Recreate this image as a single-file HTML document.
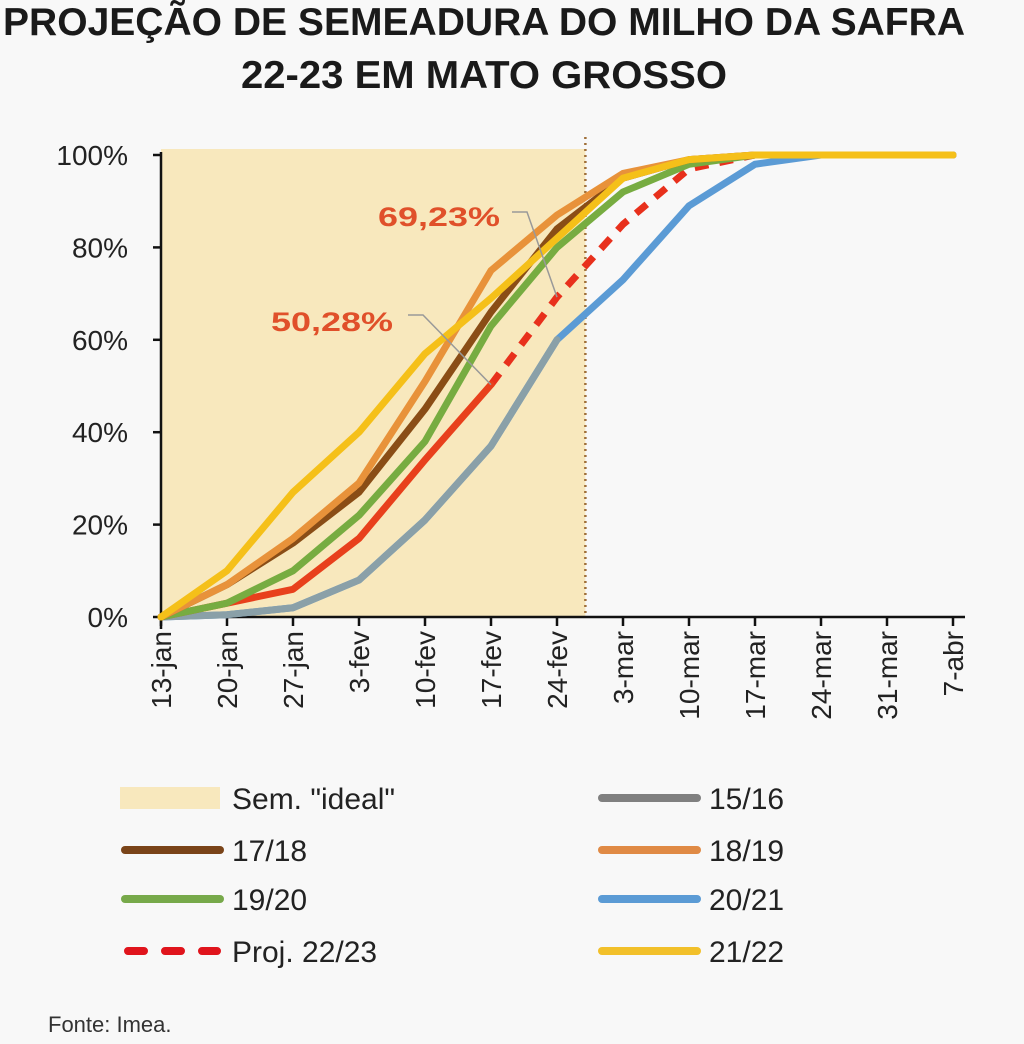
<!DOCTYPE html>
<html><head><meta charset="utf-8"><style>
body{margin:0;background:#f8f8f8;}
svg{display:block;font-family:"Liberation Sans",sans-serif;}
</style></head><body>
<svg id="c" width="1024" height="1044">
<text x="484" y="35" text-anchor="middle" font-size="39" font-weight="bold" fill="#1a1a1a" textLength="962" lengthAdjust="spacingAndGlyphs">PROJEÇÃO DE SEMEADURA DO MILHO DA SAFRA</text>
<text x="484" y="88" text-anchor="middle" font-size="39" font-weight="bold" fill="#1a1a1a" textLength="486" lengthAdjust="spacingAndGlyphs">22-23 EM MATO GROSSO</text>
<text x="48" y="1032" font-size="22" fill="#333">Fonte: Imea.</text>
</svg>
<script>
const categories=["13-jan","20-jan","27-jan","3-fev","10-fev","17-fev","24-fev","3-mar","10-mar","17-mar","24-mar","31-mar","7-abr"];
const yTicks=[0,20,40,60,80,100];
const s2021=[0,0.5,2,8,21,37,60,73,89,98,100,100,100];
const s1516=[0,0.5,2,8,21,37,60,null,null,null,null,null,null];
const s1718=[0,7,16,27,45,66,84,95,99,100,100,100,100];
const s1819=[0,7,17,29,51,75,87,96,99,100,100,100,100];
const s1920=[0,3,10,22,38,63,80,92,98,100,100,100,100];
const s2122=[0,10,27,40,57,69,82,95,99,100,100,100,100];
const proj=[0,3,6,17,34,50.28,69.23,85,97,100,100,100,100];
const idealEndIndex=6.43;
const NS="http://www.w3.org/2000/svg";
const svg=document.getElementById('c');
const X0=161,DX=66,Y0=617,Y100=155;
const x=i=>X0+i*DX;
const y=v=>Y0-(Y0-Y100)*v/100;
function mk(t,a,p){const e=document.createElementNS(NS,t);for(const k in a)e.setAttribute(k,a[k]);(p||svg).appendChild(e);return e;}
const shade=mk('rect',{x:x(0),y:149,width:x(idealEndIndex)-x(0),height:Y0-149,fill:'#f8e8bd'});


const vl=mk('line',{x1:x(idealEndIndex),x2:x(idealEndIndex),y1:137,y2:Y0,stroke:'#a0703a','stroke-width':2.5,'stroke-dasharray':'2,4'});


const ya=mk('line',{x1:X0,x2:X0,y1:Y100-3,y2:Y0+12,stroke:'#111','stroke-width':2.5});


const xa=mk('line',{x1:X0,x2:x(12)+12,y1:Y0,y2:Y0,stroke:'#111','stroke-width':2.5});


yTicks.forEach(v=>{
 mk('line',{x1:X0-8,x2:X0,y1:y(v),y2:y(v),stroke:'#111','stroke-width':2.5});
 const t=mk('text',{x:128,y:y(v)+10,'text-anchor':'end','font-size':28,fill:'#222'});
 t.textContent=v+'%';
 
 
});
categories.forEach((c,i)=>{
 mk('line',{x1:x(i),x2:x(i),y1:Y0,y2:Y0+9,stroke:'#111','stroke-width':2.5});
 const t=mk('text',{transform:`translate(${x(i)+10},${Y0+14}) rotate(-90)`,'text-anchor':'end','font-size':28,fill:'#222'});
 t.textContent=c;
 
 
});
function pts(arr,a,b){let p=[];for(let i=a;i<=b;i++){if(arr[i]!=null)p.push(x(i)+','+y(arr[i]));}return p.join(' ');}
function line(arr,color,name,extra,a,b){
 const l=mk('polyline',Object.assign({points:pts(arr,a==null?0:a,b==null?arr.length-1:b),fill:'none',stroke:color,'stroke-width':7,'stroke-linejoin':'round','stroke-linecap':'round'},extra||{}));
 
 
}
line(s2021,'#5b9bd5','series-20-21');
line(s1516,'#8aa0a8','series-15-16');
line(proj,'#e8301c','series-proj-22-23-dashed',{'stroke-dasharray':'14,11','stroke-linecap':'butt'},5,12);
line(proj,'#e8401c','series-proj-22-23',{},0,5);
line(s1920,'#77ac41','series-19-20');
line(s1718,'#8a4d16','series-17-18');
line(s1819,'#e8923a','series-18-19');
line(s2122,'#f5c019','series-21-22');
function ann(txt,tx,ty,lx,ly,i,v,name){
 const t=mk('text',{x:tx,y:ty,'font-size':27,'font-weight':'bold',fill:'#e0502a',textLength:122,lengthAdjust:'spacingAndGlyphs'});
 t.textContent=txt;
 
 
 const p=mk('polyline',{points:`${lx},${ly} ${lx+15},${ly} ${x(i)},${y(v)}`,fill:'none',stroke:'#999','stroke-width':1.5});
 
 
}
ann('69,23%',378,226,512,212,6,proj[6],'annotation-69-23');
ann('50,28%',271,331,408,315,5,proj[5],'annotation-50-28');
const leg=[
 ['Sem. "ideal"',125,798,'swatch'],['15/16',602,798,'#808080'],
 ['17/18',125,850,'#7a4419'],['18/19',602,850,'#e08a45'],
 ['19/20',125,899,'#77a94a'],['20/21',602,899,'#5b9bd5'],
 ['Proj. 22/23',125,951,'dash'],['21/22',602,951,'#f2c02a']];
leg.forEach(([lab,lx,ly,st])=>{
 const g=mk('g',{});
 
 
 if(st==='swatch')mk('rect',{x:lx-5,y:ly-11,width:100,height:22,fill:'#f8e8bd'},g);
 else if(st==='dash')mk('line',{x1:lx+3,x2:lx+92,y1:ly,y2:ly,stroke:'#e0141c','stroke-width':8,'stroke-dasharray':'16,21','stroke-linecap':'round'},g);
 else mk('line',{x1:lx,x2:lx+95,y1:ly,y2:ly,stroke:st,'stroke-width':8,'stroke-linecap':'round'},g);
 const t=mk('text',{x:lx+107,y:ly+11,'font-size':30,fill:'#222'},g);
 t.textContent=lab;
});
</script>
</body></html>
